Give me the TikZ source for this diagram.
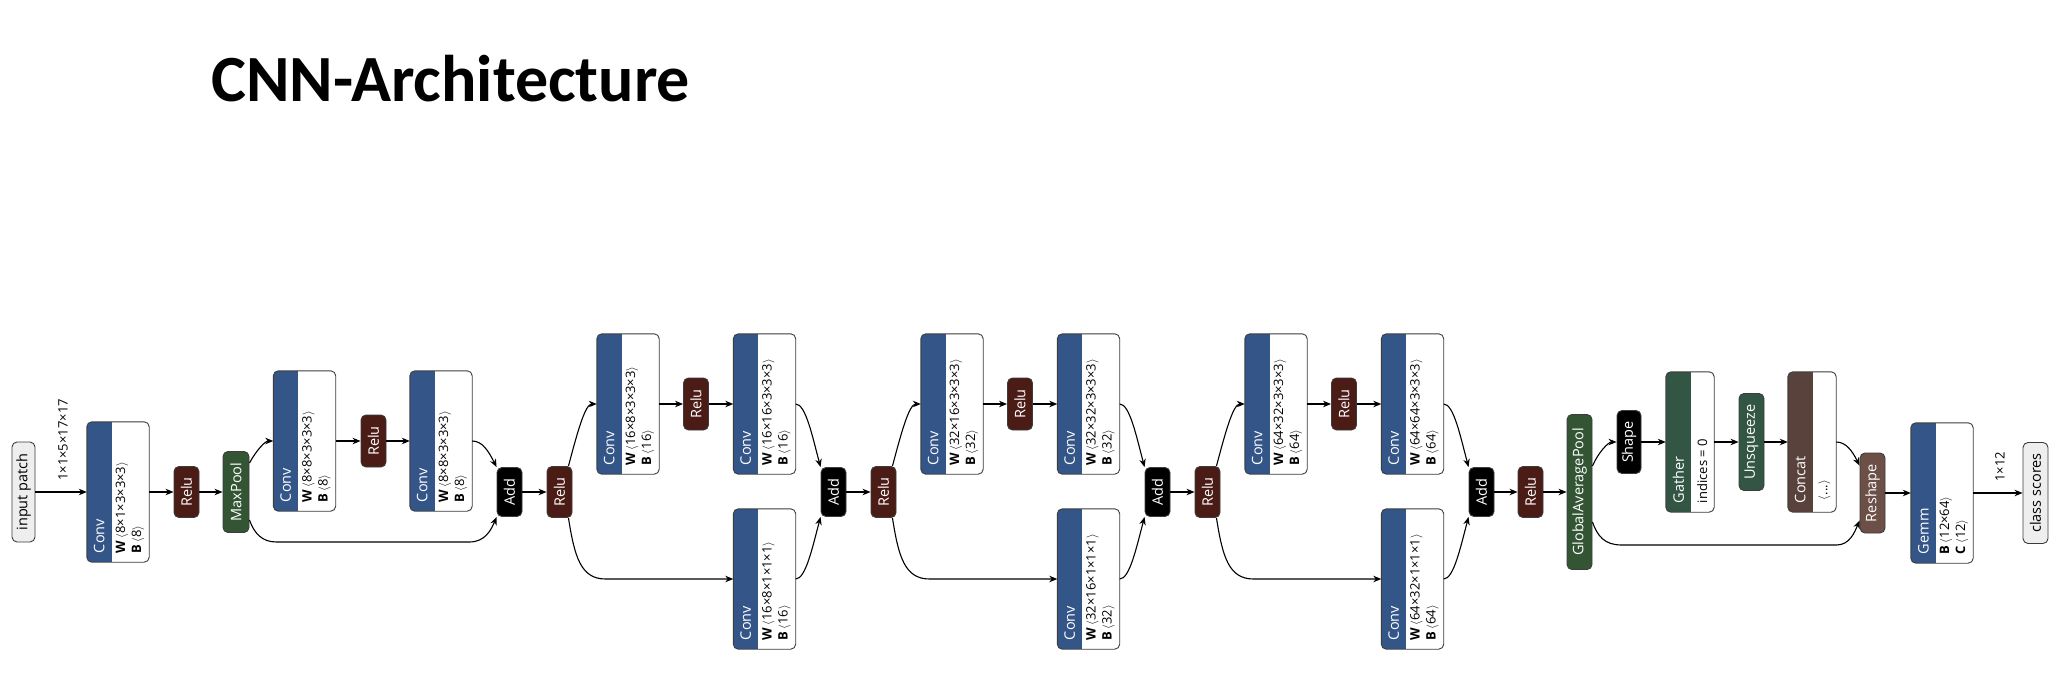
\documentclass[tikz,border=0pt]{standalone}
\usepackage{fontspec}
\setmainfont{Open Sans}
\newfontfamily\titlefont{Carlito}
\usetikzlibrary{arrows.meta,calc}
\definecolor{convblue}{RGB}{51,85,136}
\definecolor{actred}{RGB}{75,27,22}
\definecolor{poolgreen}{RGB}{51,85,51}
\definecolor{transgreen}{RGB}{51,85,68}
\definecolor{tensorbrown}{RGB}{89,66,59}
\definecolor{shapebrown}{RGB}{108,79,71}
\definecolor{iofill}{RGB}{238,238,238}
\definecolor{bordergray}{RGB}{60,60,60}
\tikzset{
  opbox/.style={draw=bordergray, line width=0.9pt, rounded corners=5pt, inner sep=0pt},
  iobox/.style={opbox, fill=iofill},
  oplbl/.style={rotate=90, text=white, inner sep=0pt, font=\fontsize{14.5}{16}\selectfont},
  iolbl/.style={rotate=90, text=black, inner sep=0pt, font=\fontsize{14.5}{16}\selectfont},
  attr/.style={rotate=90, text=black, inner sep=0pt, font=\fontsize{13}{15}\selectfont},
  elbl/.style={rotate=90, text=black, inner sep=0pt, font=\fontsize{13}{15}\selectfont},
  cbox/.style={fill=white, rounded corners=5pt, inner sep=0pt, minimum height=140pt},
  boxline/.style={draw=bordergray, line width=0.9pt, rounded corners=5pt},
  edge/.style={draw=black, line width=1.1pt, -{Stealth[length=8pt,width=6.5pt,inset=2.5pt]}}
}
\newcommand\opnode[7]{%
  \node[opbox, fill=#6, minimum width=#4pt, minimum height=#5pt, label={[oplbl]center:#7}] (#1) at (#2,#3) {};}
\newcommand\blockbox[6]{%
  \node[cbox, minimum width=#4pt] (#1) at (#2,#3) {};
  \begin{scope}
    \clip[rounded corners=5pt] (#1.south west) rectangle (#1.north east);
    \fill[#5] (#1.south west) rectangle ($(#1.north west)+(25,0)$);
  \end{scope}
  \draw[boxline] (#1.south west) rectangle (#1.north east);
  \node[oplbl, anchor=west] at ($(#1.south west)+(12.5,-9)$) {#6};}
\newcommand\twolines[3]{%
  \node[attr, anchor=west] at ($(#1.south west)+(35,-9)$) {#2};
  \node[attr, anchor=west] at ($(#1.south west)+(51,-9)$) {#3};}
\newcommand\ang[1]{$\langle$#1$\rangle$}
\newcommand\wb[2]{%
  \twolines{#1}{\textbf{W}\,\ang{#2}}}
\newcommand\resblock[6]{%
  \draw[edge] ($(#1.north east)+(-4,0)$) .. controls ($(#1.north east)+(4,-30)$) and ($(#2.west)+(-12,0)$) .. (#2.west);
  \draw[edge] (#2.east) -- (#3.west);
  \draw[edge] (#3.east) -- (#4.west);
  \draw[edge] (#4.east) .. controls ($(#4.east)+(10,0)$) and ($(#6.north west)+(-8,-30)$) .. (#6.north west);
  \draw[edge] ($(#1.south east)+(-4,0)$) .. controls ($(#1.south east)+(2,38)$) and ($(#1.south east |- #5.west)+(8,0)$) .. ($(#1.south east |- #5.west)+(33,0)$) -- (#5.west);
  \draw[edge] (#5.east) .. controls ($(#5.east)+(10,0)$) and ($(#6.south west)+(-8,30)$) .. (#6.south west);}
\begin{document}
\begin{tikzpicture}[x=1pt,y=-1pt]
\useasboundingbox (0,0) rectangle (2070,682);
\node[anchor=base west, inner sep=0pt, font=\titlefont\bfseries\fontsize{66}{70}\selectfont] (title) at (211,102) {CNN-Architecture};

% stage 1
\node[iobox, minimum width=23pt, minimum height=100pt, label={[iolbl]center:input patch}] (inp) at (23.5,492) {};
\blockbox{conv1}{118}{492}{62}{convblue}{Conv}
\wb{conv1}{8×1×3×3×3}{\textbf{B}\,\ang{8}}
\opnode{relu1}{186.5}{492}{25}{51}{actred}{Relu}
\opnode{mp}{236}{492}{26}{81}{poolgreen}{MaxPool}
\blockbox{conv2}{304.5}{441}{62}{convblue}{Conv}
\wb{conv2}{8×8×3×3×3}{\textbf{B}\,\ang{8}}
\opnode{relu2}{373.5}{441}{25}{52}{actred}{Relu}
\blockbox{conv3}{441}{441}{62}{convblue}{Conv}
\wb{conv3}{8×8×3×3×3}{\textbf{B}\,\ang{8}}
\opnode{add1}{509.5}{492}{25}{49}{black}{Add}

% stage 2
\opnode{relu3}{559.5}{492}{25}{51}{actred}{Relu}
\blockbox{conv4}{628}{404}{62}{convblue}{Conv}
\wb{conv4}{16×8×3×3×3}{\textbf{B}\,\ang{16}}
\opnode{relu4}{696}{404}{25}{52}{actred}{Relu}
\blockbox{conv5}{764.5}{404}{62}{convblue}{Conv}
\wb{conv5}{16×16×3×3×3}{\textbf{B}\,\ang{16}}
\blockbox{conv6}{764.5}{579}{62}{convblue}{Conv}
\wb{conv6}{16×8×1×1×1}{\textbf{B}\,\ang{16}}
\opnode{add2}{833.5}{492}{25}{49}{black}{Add}

% stage 3
\opnode{relu5}{883.5}{492}{25}{51}{actred}{Relu}
\blockbox{conv7}{952}{404}{62}{convblue}{Conv}
\wb{conv7}{32×16×3×3×3}{\textbf{B}\,\ang{32}}
\opnode{relu6}{1020}{404}{25}{52}{actred}{Relu}
\blockbox{conv8}{1088.5}{404}{62}{convblue}{Conv}
\wb{conv8}{32×32×3×3×3}{\textbf{B}\,\ang{32}}
\blockbox{conv9}{1088.5}{579}{62}{convblue}{Conv}
\wb{conv9}{32×16×1×1×1}{\textbf{B}\,\ang{32}}
\opnode{add3}{1157.5}{492}{25}{49}{black}{Add}

% stage 4
\opnode{relu7}{1207.5}{492}{25}{51}{actred}{Relu}
\blockbox{conv10}{1276}{404}{62}{convblue}{Conv}
\wb{conv10}{64×32×3×3×3}{\textbf{B}\,\ang{64}}
\opnode{relu8}{1344}{404}{25}{52}{actred}{Relu}
\blockbox{conv11}{1412.5}{404}{62}{convblue}{Conv}
\wb{conv11}{64×64×3×3×3}{\textbf{B}\,\ang{64}}
\blockbox{conv12}{1412.5}{579}{62}{convblue}{Conv}
\wb{conv12}{64×32×1×1×1}{\textbf{B}\,\ang{64}}
\opnode{add4}{1481.5}{492}{25}{49}{black}{Add}

% head
\opnode{relu9}{1530.5}{492}{25}{51}{actred}{Relu}
\opnode{gap}{1579.5}{492}{25}{155}{poolgreen}{GlobalAveragePool}
\opnode{shape}{1629}{442}{24}{63}{black}{Shape}
\blockbox{gather}{1690}{442}{48}{transgreen}{Gather}
\node[attr, anchor=west] at ($(gather.south west)+(36.5,-9)$) {indices = 0};
\opnode{unsq}{1751.5}{442}{25}{97}{transgreen}{Unsqueeze}
\blockbox{concat}{1812}{442}{48}{tensorbrown}{Concat}
\node[attr, anchor=west] at ($(concat.south west)+(36.5,-12)$) {\ang{...}};
\opnode{reshape}{1872.5}{493}{25}{80}{shapebrown}{Reshape}
\blockbox{gemm}{1942}{493}{62}{convblue}{Gemm}
\twolines{gemm}{\textbf{B}\,\ang{12×64}}{\textbf{C}\,\ang{12}}
\node[iobox, minimum width=25pt, minimum height=101pt, label={[iolbl]center:class scores}] (out) at (2035.5,493) {};

% edges stage 1
\draw[edge] (inp.east) -- (conv1.west);
\node[elbl, anchor=west] at ($(inp.east)!0.5!(conv1.west)+(2,-11)$) {1×1×5×17×17};
\draw[edge] (conv1.east) -- (relu1.west);
\draw[edge] (relu1.east) -- (mp.west);
\draw[edge] ($(mp.north east)+(0,12)$) .. controls ($(mp.north east)+(7,-1)$) and ($(conv2.west)+(-8,0)$) .. (conv2.west);
\draw[edge] (conv2.east) -- (relu2.west);
\draw[edge] (relu2.east) -- (conv3.west);
\draw[edge] (conv3.east) .. controls ($(conv3.east)+(10,0)$) and ($(add1.north west)+(-8,-16)$) .. (add1.north west);
\coordinate (by1) at (0,542);
\draw[edge] ($(mp.south east)+(0,-13)$) .. controls ($(mp.south east)+(5,1)$) and ($(mp.east |- by1)+(13,0)$) .. ($(mp.east |- by1)+(27,0)$) -- ($(add1.west |- by1)+(-27,0)$) .. controls ($(add1.west |- by1)+(-11,0)$) and ($(add1.south west)+(-5,12)$) .. (add1.south west);
\draw[edge] (add1.east) -- (relu3.west);

% residual blocks
\resblock{relu3}{conv4}{relu4}{conv5}{conv6}{add2}
\draw[edge] (add2.east) -- (relu5.west);
\resblock{relu5}{conv7}{relu6}{conv8}{conv9}{add3}
\draw[edge] (add3.east) -- (relu7.west);
\resblock{relu7}{conv10}{relu8}{conv11}{conv12}{add4}
\draw[edge] (add4.east) -- (relu9.west);

% head edges
\draw[edge] (relu9.east) -- (gap.west);
\draw[edge] ($(gap.east)+(0,-26)$) .. controls ($(gap.east)+(6,-40)$) and ($(shape.west)+(-8,0)$) .. (shape.west);
\draw[edge] (shape.east) -- (gather.west);
\draw[edge] (gather.east) -- (unsq.west);
\draw[edge] (unsq.east) -- (concat.west);
\draw[edge] (concat.east) .. controls ($(concat.east)+(10,0)$) and ($(reshape.north west)+(-7,-1)$) .. ($(reshape.north west)+(0,13)$);
\coordinate (by2) at (0,545);
\draw[edge] ($(gap.east)+(0,30)$) .. controls ($(gap.east)+(5,44)$) and ($(gap.east |- by2)+(12,0)$) .. ($(gap.east |- by2)+(29,0)$) -- ($(reshape.west |- by2)+(-23,0)$) .. controls ($(reshape.west |- by2)+(-10,0)$) and ($(reshape.south west)+(-5,-1)$) .. ($(reshape.south west)+(0,-13)$);
\draw[edge] (reshape.east) -- (gemm.west);
\draw[edge] (gemm.east) -- (out.west);
\node[elbl, anchor=west] at ($(gemm.east)!0.5!(out.west)+(2,-11)$) {1×12};
\end{tikzpicture}
\end{document}
